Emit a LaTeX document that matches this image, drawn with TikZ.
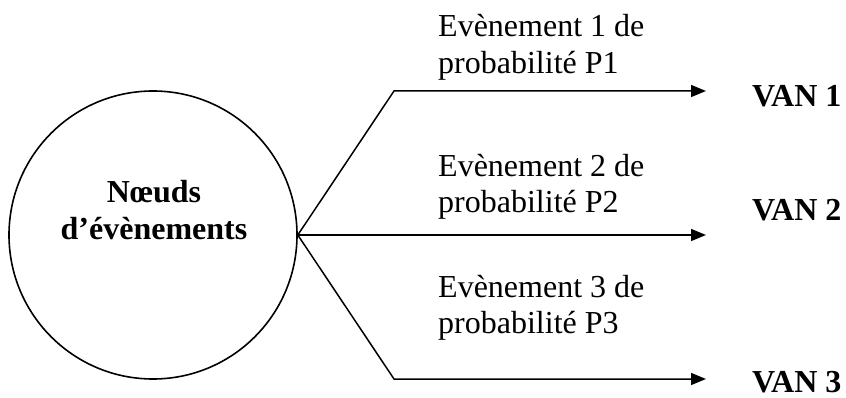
\documentclass[tikz,border=0pt]{standalone}
\usepackage{fontspec}
\setmainfont{Liberation Serif}
\usetikzlibrary{arrows.meta}
\begin{document}
\begin{tikzpicture}[x=1pt,y=-1pt,
  lbl/.style={anchor=base west,inner sep=0pt,font=\fontsize{32}{37}\selectfont},
  ctr/.style={anchor=base,inner sep=0pt,font=\fontsize{32}{37}\selectfont\bfseries},
  van/.style={anchor=base west,inner sep=0pt,font=\fontsize{32}{37}\selectfont\bfseries},
  conn/.style={line width=1.5pt,line join=miter},
  arr/.style={conn,-{Triangle[length=15pt,width=12pt]}}]
\useasboundingbox (0,0) rectangle (846,398);
\node[draw,circle,minimum size=288pt,inner sep=0pt,line width=1.6pt] (n) at (153,235) {};
\node[ctr] (t1) at (154,203) {Nœuds};
\node[ctr] (t2) at (154,240) {d’évènements};
% corners and tips
\coordinate (c1) at (394,91);
\coordinate (c3) at (394,379);
\coordinate (a1) at (706,91);
\coordinate (a2) at (706,235);
\coordinate (a3) at (706,379);
\draw[arr] (n.east) -- (c1) -- (a1);
\draw[arr] (n.east) -- (a2);
\draw[arr] (n.east) -- (c3) -- (a3);
% labels
\node[lbl] (e1a) at (438,37) {Evènement 1 de};
\node[lbl] (e1b) at (438,74) {probabilité P1};
\node[lbl] (e2a) at (438,177) {Evènement 2 de};
\node[lbl] (e2b) at (438,213) {probabilité P2};
\node[lbl] (e3a) at (438,297) {Evènement 3 de};
\node[lbl] (e3b) at (438,333) {probabilité P3};
\node[van] (v1) at (752,107) {VAN 1};
\node[van] (v2) at (752,221) {VAN 2};
\node[van] (v3) at (752,392) {VAN 3};
\end{tikzpicture}
\end{document}
